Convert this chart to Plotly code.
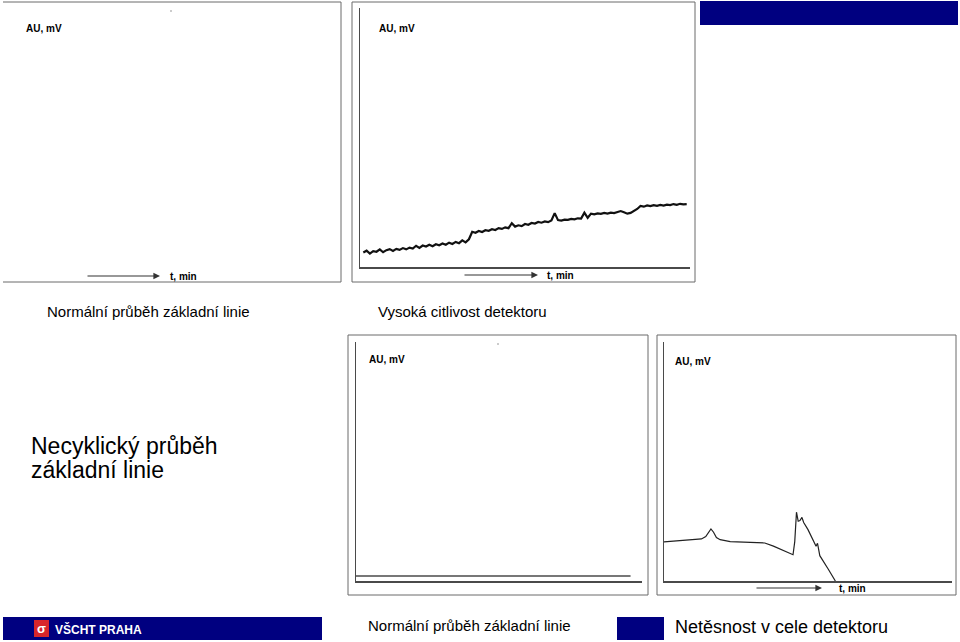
import plotly.graph_objects as go

W, H = 960, 642

# ---------------- data ----------------
# Panel "Vysoká citlivost detektoru": drifting, noisy, step-wise baseline
high_sens_t = [1, 2, 3, 4, 5, 6, 7, 8, 9, 10, 11, 12, 13, 14, 15, 16, 17, 18, 19, 20,
               21, 22, 23, 24, 25, 26, 27, 28, 29, 30, 31, 32, 33, 34, 35, 36, 37, 38, 39, 40,
               41, 42, 43, 44, 45, 46, 47, 48, 49, 50, 51, 52, 53, 54, 55, 56, 57, 58, 59, 60,
               61, 62, 63, 64, 65, 66, 67, 68, 69, 70, 71, 72, 73, 74, 75, 76, 77, 78, 79, 80,
               81, 82, 83, 84, 85, 86, 87, 88, 89, 90, 91, 92, 93, 94, 95, 96, 97, 98, 99]
high_sens_mv = [5.6, 6.3, 5.2, 6.1, 5.9, 6.8, 5.7, 6.5, 6.9, 6.2, 7.0, 6.6, 7.3, 6.8, 7.5, 7.1, 8.2, 7.4, 8.3, 7.9,
                8.6, 8.0, 8.8, 8.4, 9.1, 8.6, 9.4, 8.9, 9.7, 9.2, 10.3, 9.5, 10.7, 13.6, 13.2, 13.9, 13.5, 14.2, 14.0, 14.6,
                14.3, 15.0, 14.7, 15.3, 15.0, 16.9, 15.6, 16.1, 15.8, 16.6, 16.3, 17.0, 16.8, 17.4, 17.1, 17.6, 17.3, 18.0, 20.8, 18.1,
                17.9, 18.3, 18.2, 18.6, 18.4, 18.8, 18.7, 21.0, 19.0, 20.6, 20.3, 20.7, 20.5, 20.9, 20.6, 21.0, 20.8, 21.2, 21.6, 21.1,
                20.6, 20.9, 21.5, 22.4, 23.6, 23.3, 23.8, 23.5, 23.9, 23.6, 24.0, 23.7, 24.1, 23.9, 24.3, 24.0, 24.4, 24.2, 24.3]

# Panel "Netěsnost v cele detektoru": peaks then baseline falling away
leak_t = [0, 10, 13, 14.5, 15.5, 16.3, 17.2, 18.2, 19.5, 23, 30, 35, 38, 41, 44, 44.8,
          45.4, 46, 46.6, 47.2, 47.9, 48.5, 50, 51.5, 52.8, 53.3, 53.6, 54.1, 57, 59.5]
leak_mv = [16.4, 17.1, 17.6, 18.6, 20.6, 21.8, 20.4, 18.2, 17.3, 16.5, 16.2, 15.9, 14.6, 12.9, 11.2, 11.0,
           16.5, 28.8, 25.0, 25.3, 26.6, 24.5, 21.5, 18.0, 14.5, 15.8, 14.0, 10.6, 5.0, 0.0]

# Panel "Necyklický průběh": flat line just above the axis
noncyclic_t = [0, 96]
noncyclic_mv = [2.1, 2.1]

y_label = "AU, mV"
x_label = "t, min"
caption_1 = "Normální průběh základní linie"
caption_2 = "Vysoká citlivost detektoru"
side_title_1 = "Necyklický průběh"
side_title_2 = "základní linie"
footer_left = "VŠCHT PRAHA"
footer_mid = "Normální průběh základní linie"
footer_right = "Netěsnost v cele detektoru"

# ---------------- helpers ----------------
def fx(px):
    return px / W


def fy(py):
    return 1 - py / H


FONT = "Liberation Sans, Arial, sans-serif"
NAVY = "#000080"
AXC = "#4a4a4a"
BOXC = "#6b6b6b"

fig = go.Figure()

# (x0, x1, ytop, ybottom) plot areas in pixels
panels = [
    (7, 335, 7, 267),
    (360, 690, 8, 267),
    (356, 642, 342, 581),
    (664, 952, 342, 581),
]

layout_axes = {}
for i, (x0, x1, yt, yb) in enumerate(panels, start=1):
    sfx = "" if i == 1 else str(i)
    common = dict(showgrid=False, zeroline=False, showticklabels=False, ticks="",
                  showline=True, linecolor=AXC, linewidth=1.5, range=[0, 100], fixedrange=True)
    layout_axes["xaxis" + sfx] = dict(common, domain=[fx(x0), fx(x1)], anchor="y" + sfx)
    layout_axes["yaxis" + sfx] = dict(common, domain=[fy(yb), fy(yt)], anchor="x" + sfx)

fig.add_trace(go.Scatter(x=high_sens_t, y=high_sens_mv, mode="lines",
                         line=dict(color="#111111", width=2.2), xaxis="x2", yaxis="y2",
                         showlegend=False, hoverinfo="skip"))
fig.add_trace(go.Scatter(x=noncyclic_t, y=noncyclic_mv, mode="lines",
                         line=dict(color=AXC, width=1.5), xaxis="x3", yaxis="y3",
                         showlegend=False, hoverinfo="skip"))
fig.add_trace(go.Scatter(x=leak_t, y=leak_mv, mode="lines",
                         line=dict(color="#222222", width=1.2), xaxis="x4", yaxis="y4",
                         showlegend=False, hoverinfo="skip"))

shapes = []


def line(x0, y0, x1, y1, color=BOXC, width=1):
    shapes.append(dict(type="line", xref="paper", yref="paper",
                       x0=fx(x0), y0=fy(y0), x1=fx(x1), y1=fy(y1),
                       line=dict(color=color, width=width)))


def rect(x0, y0, x1, y1, fill, lw=0, lc=None):
    shapes.append(dict(type="rect", xref="paper", yref="paper",
                       x0=fx(x0), y0=fy(y0), x1=fx(x1), y1=fy(y1),
                       fillcolor=fill, line=dict(width=lw, color=lc or fill)))


# outer frames of the four screenshots
line(3, 2, 341, 2)
line(341, 2, 341, 282)
line(3, 282, 341, 282)
for (a, b, c, d) in [(352, 2, 695, 282), (348, 335, 648, 595), (657, 335, 956, 595)]:
    shapes.append(dict(type="rect", xref="paper", yref="paper",
                       x0=fx(a), y0=fy(b), x1=fx(c), y1=fy(d),
                       line=dict(color=BOXC, width=1), fillcolor="rgba(0,0,0,0)"))

# tiny specks
rect(170, 10, 172, 12, "#cccccc")
rect(497, 343, 499, 345, "#cccccc")

# navy bars
rect(700, 1, 958, 25, NAVY)
rect(3, 617, 322, 640, NAVY)
rect(617, 617, 664, 640, NAVY)
# logo
rect(34, 620, 49, 637, "#d9262b")

annotations = []


def text(x, y, s, size, bold=False, color="black", xanchor="left"):
    annotations.append(dict(xref="paper", yref="paper", x=fx(x), y=fy(y), text=("<b>%s</b>" % s) if bold else s,
                            showarrow=False, xanchor=xanchor, yanchor="middle",
                            font=dict(family=FONT, size=size, color=color)))


def arrow(x0, x1, y):
    annotations.append(dict(xref="paper", yref="paper", x=fx(x1), y=fy(y), ax=-(x1 - x0), ay=0,
                            text="", showarrow=True, arrowhead=2, arrowsize=1.1, arrowwidth=1.2,
                            arrowcolor="#333333", standoff=0))


# axis captions
text(24, 29, y_label, 10, bold=True)
text(377, 29, y_label, 10, bold=True)
text(367, 360, y_label, 10, bold=True)
text(673, 362, y_label, 10, bold=True)

arrow(86, 160, 276)
text(168, 276, x_label, 10, bold=True)
arrow(463, 538, 275)
text(545, 275, x_label, 10, bold=True)
arrow(755, 822, 588)
text(837, 588, x_label, 10, bold=True)

# slide texts
text(45, 311, caption_1, 15)
text(376, 311, caption_2, 15)
text(29, 446, side_title_1, 23)
text(29, 470, side_title_2, 23)
text(366, 625, footer_mid, 15)
text(673, 627, footer_right, 18)
text(53, 629, footer_left, 12, bold=True, color="white")
text(41.5, 628, "σ", 13, bold=True, color="white", xanchor="center")

fig.update_layout(
    width=W, height=H,
    margin=dict(l=0, r=0, t=0, b=0),
    paper_bgcolor="white", plot_bgcolor="white",
    showlegend=False,
    shapes=shapes,
    annotations=annotations,
    **layout_axes,
)

fig.write_html("out.html",
               config={"displayModeBar": False, "staticPlot": True},
               post_script="document.body.style.margin='0';document.body.style.overflow='hidden';")
